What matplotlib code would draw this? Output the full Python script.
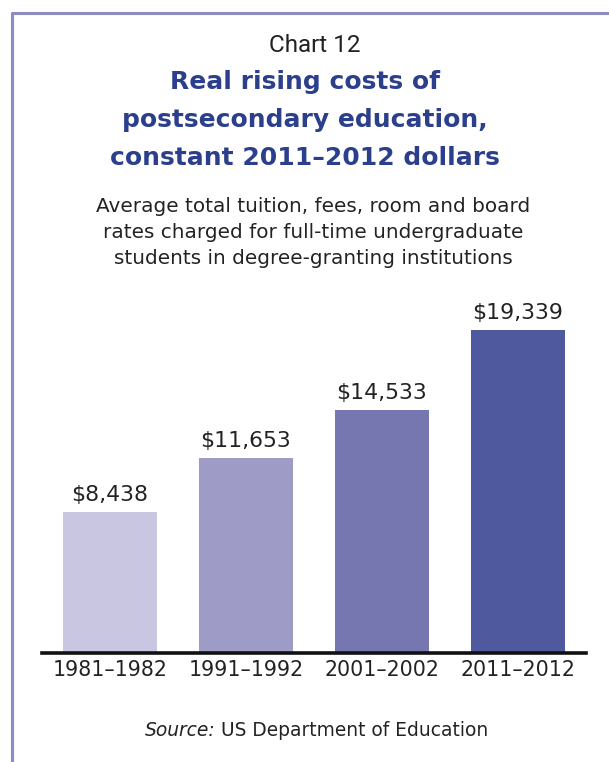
import os
import matplotlib
matplotlib.use("Agg")
import matplotlib.pyplot as plt
from matplotlib.lines import Line2D
from matplotlib.font_manager import FontProperties

# Data
periods = ["1981\u20131982", "1991\u20131992", "2001\u20132002", "2011\u20132012"]
costs = [8438, 11653, 14533, 19339]
bar_colors = ["#c8c6e0", "#9e9cc6", "#7677b0", "#4f5a9e"]

ttf_dir = os.path.join(matplotlib.get_data_path(), "fonts", "ttf")

def dv(size, weight="", italic=False):
    suffix = ""
    if weight == "bold" and italic:
        suffix = "-BoldOblique"
    elif weight == "bold":
        suffix = "-Bold"
    elif italic:
        suffix = "-Oblique"
    return FontProperties(fname=os.path.join(ttf_dir, "DejaVuSans" + suffix + ".ttf"), size=size)

W, H = 609, 762
fig = plt.figure(figsize=(W / 100, H / 100), dpi=100)
fig.patch.set_facecolor("white")

def fx(px):
    return px / W

def fy(py):
    return 1 - py / H

# Frame lines (top and left)
frame_color = "#8b8cc4"
fig.add_artist(Line2D([fx(11), fx(609)], [fy(13), fy(13)], color=frame_color, lw=2.2,
                      transform=fig.transFigure, solid_capstyle="butt"))
fig.add_artist(Line2D([fx(12), fx(12)], [fy(12), fy(762)], color=frame_color, lw=2.2,
                      transform=fig.transFigure, solid_capstyle="butt"))

# Headings
fig.text(fx(315), fy(45), "Chart 12", ha="center", va="center", fontsize=17.5,
         family="Roboto", color="#222222")
title_lines = ["Real rising costs of", "postsecondary education,", "constant 2011\u20132012 dollars"]
for i, line in enumerate(title_lines):
    fig.text(fx(305), fy(82 + 38 * i), line, ha="center", va="center",
             fontproperties=dv(18, "bold"), color="#2b3f8c")
sub_lines = ["Average total tuition, fees, room and board",
             "rates charged for full-time undergraduate",
             "students in degree-granting institutions"]
for i, line in enumerate(sub_lines):
    fig.text(fx(313), fy(207 + 26 * i), line, ha="center", va="center",
             fontproperties=dv(14.4), color="#222222")

# Bar chart
ax_left, ax_right = 42, 586
ax_bottom, ax_top = 653, 300
ax = fig.add_axes([fx(ax_left), fy(ax_bottom), fx(ax_right - ax_left), (ax_bottom - ax_top) / H])
x = list(range(len(periods)))
ax.bar(x, costs, width=0.684, color=bar_colors, zorder=2)
ax.set_xlim(-0.5, 3.5)
ax.set_ylim(0, (ax_bottom - ax_top) / 16.72 * 1000)

for xi, v in zip(x, costs):
    ax.annotate(f"${v:,}", (xi, v), xytext=(0, 5), textcoords="offset points",
                ha="center", va="bottom", fontproperties=dv(15.8), color="#222222")

for s in ["top", "right", "left"]:
    ax.spines[s].set_visible(False)
ax.spines["bottom"].set_linewidth(2.6)
ax.spines["bottom"].set_color("#111111")
ax.set_yticks([])
ax.set_xticks(x)
ax.set_xticklabels(periods, color="#222222")
for lbl in ax.get_xticklabels():
    lbl.set_fontproperties(dv(14.8))
ax.tick_params(axis="x", length=0, pad=5)

# Source note
src = fig.text(fx(145), fy(731), "Source:", ha="left", va="center",
               fontproperties=dv(13.4, italic=True), color="#222222")
fig.canvas.draw()
bb = src.get_window_extent()
fig.text((bb.x1 + 5) / W, fy(731), "US Department of Education", ha="left", va="center",
         fontproperties=dv(13.4), color="#222222")

fig.savefig("out.png", dpi=100, facecolor="white")
